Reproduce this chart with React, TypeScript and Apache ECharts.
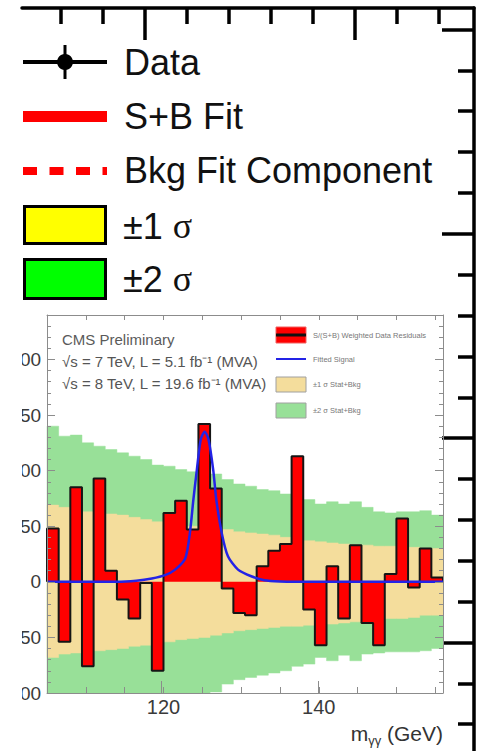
import React, { useEffect, useRef } from "react";
import * as echarts from "echarts";

// ---------- data ----------
const binEdges = [105, 106.5, 108, 109.5, 111, 112.5, 114, 115.5, 117, 118.5, 120, 121.5, 123, 124.5, 126, 127.5, 129, 130.5, 132, 133.5, 135, 136.5, 138, 139.5, 141, 142.5, 144, 145.5, 147, 148.5, 150, 151.5, 153, 154.5, 156];

const residuals = [48, -54, 85, -76, 93, 10, -16, -33, -1, -80, 62, 73, 47, 142, 84, -6, -28, -30, 14, 28, 34, 113, -25, -57, 14, -33, 33, -37, -57, 7, 57, -5, 30, 4];

const band2Upper = [140, 131, 132, 125, 122, 119, 116, 113, 110, 105, 104, 101, 99, 98, 97, 92, 88, 86, 83, 82, 79, 77, 74, 70, 72, 70, 72, 67, 63, 62, 63, 63, 64, 60];
const band2Lower = [-140, -132, -131, -126, -122, -119, -116, -113, -110, -106, -104, -102, -101, -100, -99, -92, -88, -86, -84, -82, -80, -76, -74, -68, -71, -66, -71, -65, -64, -63, -63, -63, -62, -60];
const band1Upper = [69, 67, 65, 63, 62, 61, 60, 58, 56, 54, 52, 51, 50, 49, 48, 47, 45, 44, 43, 42, 40, 39, 37, 36, 35, 34, 33, 33, 32, 32, 31, 31, 30, 30];
const band1Lower = [-68, -65, -64, -63, -62, -61, -60, -58, -57, -55, -54, -52, -51, -50, -48, -46, -44, -43, -42, -41, -40, -40, -39, -39, -38, -37, -36, -35, -34, -33, -33, -32, -30, -30];

const signalMass = [105, 114, 116.5, 118.5, 120.2, 121.5, 122.8, 123.4, 123.85, 124.3, 124.8, 125.3, 125.8, 126.4, 126.8, 127.5, 128.3, 129.6, 131.3, 133, 135, 137, 156];
const signalValue = [0, 0, 1, 3, 6, 11, 21, 44, 74, 101, 128, 135, 128, 101, 74, 44, 23, 11, 5, 1.5, 0.3, 0, 0];

const innerXRange = [105, 156];
const innerYRange = [-100, 240];
const innerXLabelValues = [120, 140];
const innerXMajorTicks = [120, 140];

const outerTopRange = [104.142857, 125.666667];
const outerTopMajor = [110, 120];
const outerTopMinor = [106, 108, 112, 114, 116, 118, 122, 124];
const outerRightRange = [9.378, 82.105];
const outerRightMajor = [20, 40, 60, 80];
const outerRightMinor = [12, 16, 24, 28, 32, 36, 44, 48, 52, 56, 64, 68, 72, 76];

const legendLabels = ["Data", "S+B Fit", "Bkg Fit Component", "±1", "±2"];
const sigma = "σ";
const innerLegendLabels = ["S/(S+B) Weighted Data Residuals", "Fitted Signal", "±1 σ Stat+Bkg", "±2 σ Stat+Bkg"];
const cmsLines = ["CMS Preliminary", "√s = 7 TeV, L = 5.1 fb⁻¹ (MVA)", "√s = 8 TeV, L = 19.6 fb⁻¹ (MVA)"];
const xTitle = { main: "m", sub: "γγ", unit: " (GeV)" };

// ---------- styles ----------
const SANS = "'Liberation Sans', Arial, Helvetica, sans-serif";
const SERIF = "'Liberation Serif', 'Times New Roman', serif";
const GREEN_BAND = "#98e098";
const TAN_BAND = "#f4dd9c";
const RED = "#ff0000";
const BLUE = "#2323e6";
const AXIS_GRAY = "#8c8c8c";

function bandRenderer(upper: number[], lower: number[], color: string) {
  return (params: any, api: any) => {
    const pts: number[][] = [];
    for (let i = 0; i < upper.length; i++) {
      pts.push(api.coord([binEdges[i], upper[i]]));
      pts.push(api.coord([binEdges[i + 1], upper[i]]));
    }
    for (let i = lower.length - 1; i >= 0; i--) {
      pts.push(api.coord([binEdges[i + 1], lower[i]]));
      pts.push(api.coord([binEdges[i], lower[i]]));
    }
    const cs = params.coordSys;
    const clipped = (echarts.graphic as any).clipPointsByRect(pts, {
      x: cs.x,
      y: cs.y,
      width: cs.width,
      height: cs.height,
    });
    return {
      type: "polygon",
      shape: { points: clipped },
      style: { fill: color, stroke: color, lineWidth: 0.5 },
    };
  };
}

function txt(x: number, y: number, text: string, font: string, fill: string, extra: any = {}) {
  return {
    type: "text",
    x,
    y,
    z: 50,
    style: {
      text,
      font,
      fill,
      align: "left",
      textAlign: "left",
      verticalAlign: "middle",
      textVerticalAlign: "middle",
      ...extra,
    },
  };
}

function buildOption() {
  const residualSteps: number[][] = [[binEdges[0], 0]];
  residuals.forEach((v, i) => residualSteps.push([binEdges[i], v]));
  residualSteps.push([binEdges[residuals.length], residuals[residuals.length - 1]]);
  residualSteps.push([binEdges[residuals.length], 0]);

  const signalData = signalMass.map((m, i) => [m, signalValue[i]]);

  const outerGrid = { left: 22, top: 8, width: 452, height: 760, containLabel: false };
  const innerGrid = { left: 44, top: 315, width: 399, height: 378, containLabel: false };

  const hiddenLabel = { show: false };
  const noSplit = { show: false };

  const outerLine = { show: true, lineStyle: { color: "#000", width: 3.5 } };

  const innerTickStyle = { color: AXIS_GRAY, width: 1 };

  const graphics: any[] = [];
  // crop edge of the inset picture (its labels are cut off there)
  graphics.push({ type: "rect", z: 40, shape: { x: 0, y: 300, width: 22, height: 460 }, style: { fill: "#fff" } });

  // outer legend
  graphics.push({ type: "line", z: 50, shape: { x1: 23, y1: 62, x2: 107, y2: 62 }, style: { stroke: "#000", lineWidth: 4 } });
  graphics.push({ type: "line", z: 50, shape: { x1: 65, y1: 45, x2: 65, y2: 79 }, style: { stroke: "#000", lineWidth: 3 } });
  graphics.push({ type: "circle", z: 51, shape: { cx: 65, cy: 62, r: 8 }, style: { fill: "#000" } });
  graphics.push({ type: "rect", z: 50, shape: { x: 23, y: 111, width: 84, height: 11 }, style: { fill: RED } });
  graphics.push({ type: "line", z: 50, shape: { x1: 23, y1: 171, x2: 107, y2: 171 }, style: { stroke: RED, lineWidth: 8, lineDash: [14, 12.5] } });
  graphics.push({ type: "rect", z: 50, shape: { x: 24.5, y: 206.5, width: 81, height: 37 }, style: { fill: "#ffff00", stroke: "#000", lineWidth: 3 } });
  graphics.push({ type: "rect", z: 50, shape: { x: 24.5, y: 259.5, width: 81, height: 39 }, style: { fill: "#00ff00", stroke: "#000", lineWidth: 3 } });

  const legendFont = `36px ${SANS}`;
  const rowY = [62, 116, 170, 226, 279];
  graphics.push(txt(124, rowY[0], legendLabels[0], legendFont, "#111"));
  graphics.push(txt(124, rowY[1], legendLabels[1], legendFont, "#111"));
  graphics.push(txt(124, rowY[2], legendLabels[2], legendFont, "#111"));
  [3, 4].forEach((k) => {
    graphics.push({
      type: "text",
      x: 123,
      y: rowY[k],
      z: 50,
      style: {
        text: `{a|${legendLabels[k]}\u00a0}{s|${sigma}}`,
        align: "left",
        textAlign: "left",
        verticalAlign: "middle",
        textVerticalAlign: "middle",
        rich: {
          a: { fontFamily: SANS, fontSize: 36, fill: "#111", color: "#111" },
          s: { fontFamily: SERIF, fontSize: 36, fill: "#111", color: "#111" },
        },
      },
    });
  });

  // inset texts
  const cmsFont = `15px ${SANS}`;
  graphics.push(txt(62, 339, cmsLines[0], cmsFont, "#5a5a5a"));
  graphics.push(txt(62, 361, cmsLines[1], cmsFont, "#555"));
  graphics.push(txt(62, 383, cmsLines[2], cmsFont, "#555"));

  // inset legend
  const smallFont = `7.5px ${SANS}`;
  graphics.push({ type: "rect", z: 50, shape: { x: 276, y: 327, width: 30, height: 16 }, style: { fill: RED, stroke: "#f06060", lineWidth: 1 } });
  graphics.push({ type: "line", z: 51, shape: { x1: 276, y1: 335, x2: 306, y2: 335 }, style: { stroke: "#111", lineWidth: 3 } });
  graphics.push(txt(313, 335, innerLegendLabels[0], smallFont, "#777"));
  graphics.push({ type: "line", z: 50, shape: { x1: 276, y1: 359, x2: 306, y2: 359 }, style: { stroke: BLUE, lineWidth: 2 } });
  graphics.push(txt(313, 359, innerLegendLabels[1], smallFont, "#777"));
  graphics.push({ type: "rect", z: 50, shape: { x: 276, y: 377, width: 30, height: 15 }, style: { fill: TAN_BAND, stroke: "#a0a0a0", lineWidth: 1 } });
  graphics.push(txt(313, 384, innerLegendLabels[2], smallFont, "#777"));
  graphics.push({ type: "rect", z: 50, shape: { x: 276, y: 403, width: 30, height: 15 }, style: { fill: GREEN_BAND, stroke: "#a0a0a0", lineWidth: 1 } });
  graphics.push(txt(313, 410, innerLegendLabels[3], smallFont, "#777"));

  // inset x-axis title
  graphics.push({
    type: "text",
    x: 443,
    y: 733,
    z: 50,
    style: {
      text: `{m|${xTitle.main}}{s|${xTitle.sub}}{g|${xTitle.unit}}`,
      align: "right",
      textAlign: "right",
      verticalAlign: "middle",
      textVerticalAlign: "middle",
      rich: {
        m: { fontFamily: SANS, fontSize: 21, lineHeight: 27, fill: "#333", color: "#333" },
        s: { fontFamily: SANS, fontSize: 13, lineHeight: 13, verticalAlign: "bottom", fill: "#333", color: "#333" },
        g: { fontFamily: SANS, fontSize: 21, lineHeight: 27, fill: "#333", color: "#333" },
      },
    },
  });

  return {
    animation: false,
    backgroundColor: "#ffffff",
    textStyle: { fontFamily: SANS },
    grid: [outerGrid, outerGrid, innerGrid, innerGrid],
    xAxis: [
      {
        gridIndex: 0,
        type: "value",
        position: "top",
        min: outerTopRange[0],
        max: outerTopRange[1],
        axisLine: outerLine,
        axisTick: { show: true, inside: true, length: 16, customValues: outerTopMinor, lineStyle: { color: "#000", width: 3.5 } },
        axisLabel: hiddenLabel,
        splitLine: noSplit,
      },
      {
        gridIndex: 1,
        type: "value",
        position: "top",
        min: outerTopRange[0],
        max: outerTopRange[1],
        axisLine: { show: false },
        axisTick: { show: true, inside: true, length: 32, customValues: outerTopMajor, lineStyle: { color: "#000", width: 3.5 } },
        axisLabel: hiddenLabel,
        splitLine: noSplit,
      },
      {
        gridIndex: 2,
        type: "value",
        position: "bottom",
        min: innerXRange[0],
        max: innerXRange[1],
        interval: 5,
        z: 10,
        axisLine: { show: true, onZero: false, lineStyle: { color: AXIS_GRAY, width: 1 } },
        axisTick: { show: true, inside: true, length: 6, lineStyle: innerTickStyle },
        axisLabel: { show: true, customValues: innerXLabelValues, fontSize: 20, color: "#3a3a3a", margin: 4, fontFamily: SANS },
        splitLine: noSplit,
      },
      {
        gridIndex: 2,
        type: "value",
        position: "top",
        min: innerXRange[0],
        max: innerXRange[1],
        interval: 5,
        z: 10,
        axisLine: { show: true, onZero: false, lineStyle: { color: AXIS_GRAY, width: 1 } },
        axisTick: { show: true, inside: true, length: 5, lineStyle: innerTickStyle },
        axisLabel: hiddenLabel,
        splitLine: noSplit,
      },
      {
        gridIndex: 3,
        type: "value",
        position: "bottom",
        min: innerXRange[0],
        max: innerXRange[1],
        z: 10,
        axisLine: { show: false, onZero: false },
        axisTick: { show: true, inside: true, length: 12, customValues: innerXMajorTicks, lineStyle: innerTickStyle },
        axisLabel: hiddenLabel,
        splitLine: noSplit,
      },
    ],
    yAxis: [
      {
        gridIndex: 0,
        type: "value",
        position: "right",
        min: outerRightRange[0],
        max: outerRightRange[1],
        axisLine: outerLine,
        axisTick: { show: true, inside: true, length: 16, customValues: outerRightMinor, lineStyle: { color: "#000", width: 3.5 } },
        axisLabel: hiddenLabel,
        splitLine: noSplit,
      },
      {
        gridIndex: 1,
        type: "value",
        position: "right",
        min: outerRightRange[0],
        max: outerRightRange[1],
        axisLine: { show: false },
        axisTick: { show: true, inside: true, length: 32, customValues: outerRightMajor, lineStyle: { color: "#000", width: 3.5 } },
        axisLabel: hiddenLabel,
        splitLine: noSplit,
      },
      {
        gridIndex: 2,
        type: "value",
        position: "left",
        min: innerYRange[0],
        max: innerYRange[1],
        interval: 50,
        z: 10,
        axisLine: { show: true, onZero: false, lineStyle: { color: AXIS_GRAY, width: 1 } },
        axisTick: { show: true, inside: true, length: 8, lineStyle: innerTickStyle },
        minorTick: { show: true, splitNumber: 5, length: 4, lineStyle: innerTickStyle },
        axisLabel: { show: true, showMaxLabel: false, fontSize: 19, color: "#3a3a3a", margin: 6, fontFamily: SANS },
        splitLine: noSplit,
        minorSplitLine: noSplit,
      },
      {
        gridIndex: 2,
        type: "value",
        position: "right",
        min: innerYRange[0],
        max: innerYRange[1],
        interval: 50,
        z: 10,
        axisLine: { show: true, onZero: false, lineStyle: { color: AXIS_GRAY, width: 1 } },
        axisTick: { show: true, inside: true, length: 8, lineStyle: innerTickStyle },
        minorTick: { show: true, splitNumber: 5, length: 4, lineStyle: innerTickStyle },
        axisLabel: hiddenLabel,
        splitLine: noSplit,
        minorSplitLine: noSplit,
      },
      {
        gridIndex: 3,
        type: "value",
        show: false,
        min: innerYRange[0],
        max: innerYRange[1],
        splitLine: noSplit,
      },
    ],
    series: [
      {
        name: "±2 σ Stat+Bkg",
        type: "custom",
        xAxisIndex: 2,
        yAxisIndex: 2,
        data: [[binEdges[0], 0]],
        renderItem: bandRenderer(band2Upper, band2Lower, GREEN_BAND),
        silent: true,
        z: 2,
      },
      {
        name: "±1 σ Stat+Bkg",
        type: "custom",
        xAxisIndex: 2,
        yAxisIndex: 2,
        data: [[binEdges[0], 0]],
        renderItem: bandRenderer(band1Upper, band1Lower, TAN_BAND),
        silent: true,
        z: 3,
      },
      {
        name: "S/(S+B) Weighted Data Residuals",
        type: "line",
        xAxisIndex: 2,
        yAxisIndex: 2,
        data: residualSteps,
        step: "end",
        symbol: "none",
        lineStyle: { color: "#151515", width: 2 },
        areaStyle: { color: RED, opacity: 1 },
        z: 4,
      },
      {
        name: "Fitted Signal",
        type: "line",
        xAxisIndex: 2,
        yAxisIndex: 2,
        data: signalData,
        smooth: 0.25,
        symbol: "none",
        lineStyle: { color: BLUE, width: 2.5 },
        z: 5,
      },
    ],
    graphic: { elements: graphics },
  };
}

export default function App() {
  const ref = useRef<HTMLDivElement>(null);
  useEffect(() => {
    if (!ref.current) return;
    const chart = echarts.init(ref.current, null, { renderer: "svg" });
    chart.setOption(buildOption() as any);
    return () => chart.dispose();
  }, []);
  return (
    <div
      ref={ref}
      style={{ position: "fixed", left: 0, top: 0, width: 481, height: 751, background: "#fff" }}
    />
  );
}
